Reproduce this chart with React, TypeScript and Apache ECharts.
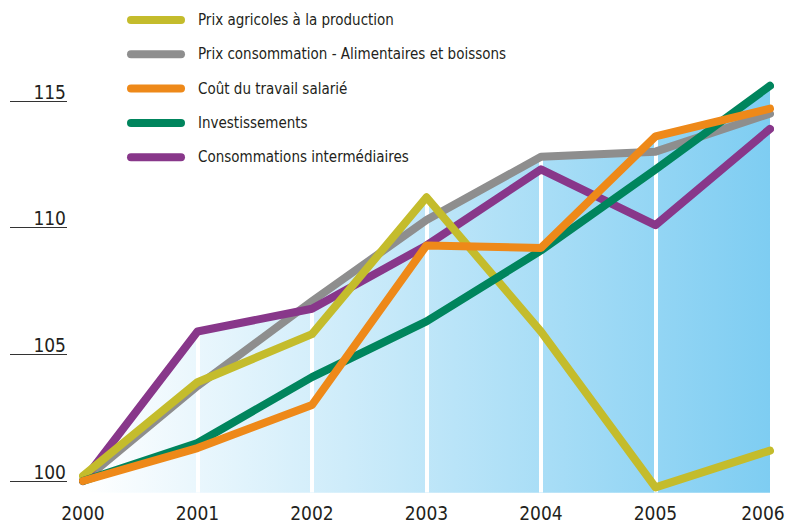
import React, { useEffect, useRef } from "react";
import * as echarts from "echarts";

const years = ["2000", "2001", "2002", "2003", "2004", "2005", "2006"];
const yTicks = [100, 105, 110, 115];

const prixAgricoles = [100.2, 103.9, 105.8, 111.2, 105.9, 99.75, 101.2];
const prixConso = [100, 103.75, 107.1, 110.3, 112.8, 113.0, 114.5];
const coutTravail = [100, 101.3, 103.0, 109.3, 109.2, 113.6, 114.7];
const investissements = [100, 101.5, 104.1, 106.3, 109.1, 112.3, 115.6];
const consoInter = [100, 105.9, 106.8, 109.3, 112.3, 110.1, 113.9];

const seriesDefs = [
  { name: "Prix consommation - Alimentaires et boissons", data: prixConso, color: "#8e8e8e" },
  { name: "Consommations intermédiaires", data: consoInter, color: "#88378a" },
  { name: "Prix agricoles à la production", data: prixAgricoles, color: "#c4bc2c" },
  { name: "Investissements", data: investissements, color: "#00855d" },
  { name: "Coût du travail salarié", data: coutTravail, color: "#ee8919" },
];

const legendOrder = [
  "Prix agricoles à la production",
  "Prix consommation - Alimentaires et boissons",
  "Coût du travail salarié",
  "Investissements",
  "Consommations intermédiaires",
];

const FONT = "'Liberation Sans Narrow', 'DejaVu Sans Condensed', 'Roboto Condensed', sans-serif";

export default function App() {
  const ref = useRef<HTMLDivElement>(null);
  useEffect(() => {
    document.body.style.margin = "0";
    if (!ref.current) return;
    const chart = echarts.init(ref.current, null, { renderer: "svg" });
    const gradient = new echarts.graphic.LinearGradient(0, 0, 1, 0, [
      { offset: 0, color: "#ffffff" },
      { offset: 1, color: "#7ecdf2" },
    ]);
    const areaSeries = seriesDefs.map((s, i) => ({
      name: "area-" + i,
      type: "line",
      data: s.data,
      z: 1,
      silent: true,
      showSymbol: false,
      symbol: "none",
      lineStyle: { width: 0, opacity: 0 },
      areaStyle: { color: gradient, opacity: 1, origin: "start" },
    }));
    const lineSeries = seriesDefs.map((s) => ({
      name: s.name,
      type: "line",
      data: s.data,
      z: 3,
      showSymbol: false,
      symbol: "none",
      itemStyle: { color: s.color },
      lineStyle: { color: s.color, width: 8, cap: "round", join: "round" },
    }));
    const lastYear = years[years.length - 1];
    chart.setOption({
      animation: false,
      backgroundColor: "#ffffff",
      legend: {
        data: legendOrder,
        orient: "vertical",
        left: 127,
        top: 8,
        padding: 0,
        itemWidth: 58,
        itemHeight: 8,
        itemGap: 10.3,
        icon: "path://M4,0 L54,0 A4,4 0 0 1 54,8 L4,8 A4,4 0 0 1 4,0 Z",
        selectedMode: false,
        textStyle: {
          fontFamily: FONT,
          fontSize: 15,
          color: "#231f20",
          lineHeight: 24,
          padding: [0, 0, 0, 8],
        },
      },
      grid: {
        left: 83,
        right: 16,
        top: 25,
        bottom: 33.6,
        containLabel: false,
        outerBoundsMode: "none",
      },
      xAxis: {
        type: "category",
        data: years,
        boundaryGap: false,
        z: 2,
        axisLine: { show: false },
        axisTick: { show: false },
        axisLabel: {
          interval: 0,
          hideOverlap: false,
          fontFamily: FONT,
          fontSize: 19,
          color: "#231f20",
          margin: 11,
          formatter: (v: string) => (v === lastYear ? "{last|" + v + "}" : v),
          rich: {
            last: {
              fontFamily: FONT,
              fontSize: 19,
              color: "#231f20",
              padding: [0, 14, 0, 0],
            },
          },
        },
        splitLine: {
          show: true,
          interval: (index: number) => index !== 0 && index !== 6,
          lineStyle: { color: "#ffffff", width: 4 },
        },
      },
      yAxis: {
        type: "value",
        min: 99.55,
        max: 118,
        position: "left",
        offset: 16,
        axisLine: { show: false },
        splitLine: { show: false },
        axisTick: {
          show: true,
          length: 57,
          inside: false,
          customValues: yTicks,
          lineStyle: { color: "#333333", width: 1 },
        },
        axisLabel: {
          customValues: yTicks,
          fontFamily: FONT,
          fontSize: 19,
          color: "#231f20",
          margin: 1,
          verticalAlign: "bottom",
          align: "right",
        },
      },
      series: [...areaSeries, ...lineSeries],
    });
    return () => chart.dispose();
  }, []);
  return <div ref={ref} style={{ width: 786, height: 526 }} />;
}
